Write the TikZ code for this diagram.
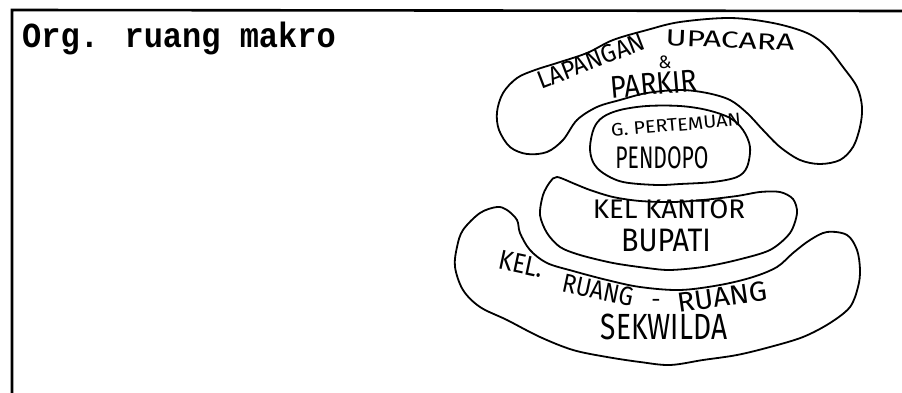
\documentclass[tikz,border=0pt]{standalone}
\usepackage{fontspec}
\newfontfamily\handfont{Fira Sans}
\newfontfamily\typefont{Liberation Mono}
\tikzset{
  outline/.style={line width=1.8pt, line join=round},
  frameline/.style={line width=2.6pt},
  hand/.style={font=\handfont, inner sep=0pt, text=black},
  title/.style={font=\typefont\bfseries\fontsize{32}{32}\selectfont, inner sep=0pt, anchor=base west},
}
\newcommand{\hsz}[1]{\fontsize{#1}{#1}\selectfont}
\begin{document}
\begin{tikzpicture}[x=1pt,y=-1pt]
\useasboundingbox (0,0) rectangle (902,393);

% sheet border
\draw[frameline] (12,393) -- (12,10) -- (902,11);

% heading
\node[title, yscale=1.1] (head) at (22,48) {Org. ruang makro};

% field and parking (upper kidney)
\draw[outline] plot[smooth cycle, tension=0.55] coordinates {
  (497,112) (503,93) (517,78) (535,70) (557,63) (587,53) (613,40) (647,30)
  (680,22) (730,18) (773,23) (807,33) (827,47) (843,67) (857,87) (862,107)
  (860,127) (853,147) (840,160) (820,164) (800,160) (780,147) (763,130)
  (747,113) (730,100) (707,93) (680,90) (647,93) (620,100) (597,107)
  (577,120) (563,140) (547,152) (527,154) (510,147) (499,130)};

% meeting hall / pendopo
\draw[outline] plot[smooth cycle, tension=0.55] coordinates {
  (590,147) (594,128) (603,117) (620,110) (647,106) (680,106) (707,110)
  (730,118) (743,130) (750,147) (747,167) (737,177) (713,182) (680,184)
  (657,185) (623,182) (603,173) (593,162)};

% regent office group
\draw[outline] plot[smooth cycle, tension=0.5] coordinates {
  (557,177) (575,184) (590,190) (613,197) (640,201) (673,202) (703,200)
  (737,196) (760,192) (780,192) (793,199) (797,213) (790,233) (770,250)
  (737,260) (703,267) (670,270) (647,268) (613,263) (580,255) (560,247)
  (547,233) (540,215) (543,195) (550,182)};

% secretariat group (lower kidney)
\draw[outline] plot[smooth cycle, tension=0.55] coordinates {
  (497,207) (507,210) (517,220) (520,233) (530,250) (547,263) (573,271)
  (607,280) (640,287) (680,290) (720,285) (753,277) (777,267) (793,253)
  (810,240) (827,232) (847,235) (857,250) (860,270) (858,287) (850,307)
  (830,323) (803,337) (770,347) (737,355) (703,360) (670,365) (640,362)
  (607,357) (573,350) (540,337) (507,320) (480,307) (463,290) (455,267)
  (457,247) (463,230) (480,213)};

% labels
\node[hand, font=\handfont\hsz{24}, rotate=21, yscale=1.05] (lap) at (591,61) {LAPANGAN};
\node[hand, font=\handfont\hsz{23}, rotate=-2.5, xscale=1.38] (upa) at (730,40) {UPACARA};
\node[hand, font=\handfont\hsz{18}] (amp) at (665,62) {\&};
\node[hand, font=\handfont\hsz{26}, rotate=5, xscale=1.05, yscale=1.2] (par) at (654,84) {PARKIR};
\node[hand, font=\handfont\hsz{18}, rotate=5, xscale=1.1] (gpt) at (676,125) {G. PERTEMUAN};
\node[hand, font=\handfont\hsz{24}, xscale=0.88, yscale=1.3] (pen) at (662,158) {PENDOPO};
\node[hand, font=\handfont\hsz{24}, xscale=1.15, yscale=1.12] (kkt) at (669,209) {KEL KANTOR};
\node[hand, font=\handfont\hsz{25}, xscale=1.15, yscale=1.3] (bup) at (666,240) {BUPATI};
\node[hand, font=\handfont\hsz{24}, rotate=-12, yscale=1.15] (kel) at (521,264) {KEL.};
\node[hand, font=\handfont\hsz{23}, rotate=-12, yscale=1.15] (ru1) at (598,290) {RUANG};
\node[hand, font=\handfont\hsz{23}] (dsh) at (656,303) {-};
\node[hand, font=\handfont\hsz{23}, rotate=8, xscale=1.25, yscale=1.2] (ru2) at (722,297) {RUANG};
\node[hand, font=\handfont\hsz{26}, xscale=1.08, yscale=1.4] (sek) at (664,327) {SEKWILDA};
\end{tikzpicture}
\end{document}
